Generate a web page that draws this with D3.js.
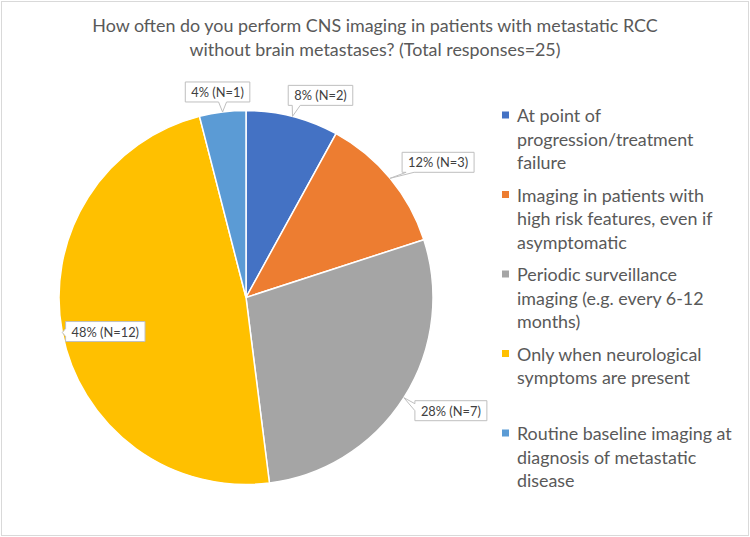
<!DOCTYPE html>
<html>
<head>
<meta charset="utf-8">
<script src="https://cdn.jsdelivr.net/npm/d3@7"></script>
<style>
  body { margin: 0; background: #fff; }
  text { font-family: Lato, "Open Sans", sans-serif; }
</style>
</head>
<body>
<svg id="chart" width="750" height="537"></svg>
<script>
// data (total responses = 25)
const categories = [
  'At point of progression/treatment failure',
  'Imaging in patients with high risk features, even if asymptomatic',
  'Periodic surveillance imaging (e.g. every 6-12 months)',
  'Only when neurological symptoms are present',
  'Routine baseline imaging at diagnosis of metastatic disease'
];
const counts = [2, 3, 7, 12, 1];
const percents = [8, 12, 28, 48, 4];
const legendLines = [
  ['At point of', 'progression/treatment', 'failure'],
  ['Imaging in patients with', 'high risk features, even if', 'asymptomatic'],
  ['Periodic surveillance', 'imaging (e.g. every 6-12', 'months)'],
  ['Only when neurological', 'symptoms are present'],
  ['Routine baseline imaging at', 'diagnosis of metastatic', 'disease']
];
const titleLines = [
  'How often do you perform CNS imaging in patients with metastatic RCC',
  'without brain metastases? (Total responses=25)'
];

const colors = ['#4472C4', '#ED7D31', '#A5A5A5', '#FFC000', '#5B9BD5'];

// callout layout: box centre offset from the slice edge point, and which side the pointer leaves from
const calloutOffset = [[28, -21], [48, -16], [47, 13], [43, -1], [-5, -20]];
const calloutSide = ['bottom', 'bottom', 'left', 'left', 'bottom'];

const width = 750, height = 537;
const cx = 246, cy = 297.5, radius = 187;

let svg = d3.select('#chart');

svg.append('rect')
  .attr('x', 1.5).attr('y', 1.5)
  .attr('width', width - 3).attr('height', height - 3)
  .attr('fill', '#fff')
  .attr('stroke', '#d9d9d9');

// pick a font size so a sample string comes out at the width measured on the picture
function fitSize(sample, target, base) {
  let t = svg.append('text').style('font-size', base + 'px').text(sample);
  let w = t.node().getComputedTextLength();
  t.remove();
  return base * target / w;
}
const bigSize = fitSize('Routine baseline imaging at', 215, 18);
const labelSize = fitSize('12% (N=3)', 60, 12);

// title
svg.append('g')
  .selectAll('text')
  .data(titleLines)
  .enter()
  .append('text')
  .attr('x', 375)
  .attr('y', (d, i) => 25 + i * 24)
  .attr('text-anchor', 'middle')
  .attr('dominant-baseline', 'central')
  .style('font-size', bigSize + 'px')
  .style('fill', '#595959')
  .text(d => d);

// pie
let pie = d3.pie().value(d => d).sort(null);
let arc = d3.arc().innerRadius(0).outerRadius(radius);
let arcs = pie(counts);

let g = svg.append('g').attr('transform', 'translate(' + cx + ',' + cy + ')');
g.selectAll('path')
  .data(arcs)
  .enter()
  .append('path')
  .attr('d', arc)
  .attr('fill', (d, i) => colors[i])
  .attr('stroke', '#fff')
  .attr('stroke-width', 1.5);

// callout data labels
arcs.forEach(function (d, i) {
  let mid = (d.startAngle + d.endAngle) / 2;
  let tx = Math.sin(mid) * radius;
  let ty = -Math.cos(mid) * radius;
  let label = percents[i] + '% (N=' + counts[i] + ')';

  let lg = g.append('g');
  let txt = lg.append('text')
    .style('font-size', labelSize + 'px')
    .style('fill', '#404040')
    .attr('text-anchor', 'middle')
    .attr('dominant-baseline', 'central')
    .text(label);
  let tw = txt.node().getComputedTextLength();
  let bw = tw + 12, bh = 20;
  let bx = tx + calloutOffset[i][0], by = ty + calloutOffset[i][1];
  let x0 = bx - bw / 2, x1 = bx + bw / 2, y0 = by - bh / 2, y1 = by + bh / 2;

  let p;
  if (calloutSide[i] === 'bottom') {
    let b1, b2;
    if (tx < x0 + 10) { b1 = x0 + 4; b2 = x0 + 12; }
    else if (tx > x1 - 10) { b1 = x1 - 12; b2 = x1 - 4; }
    else { b1 = tx - 4; b2 = tx + 4; }
    p = 'M' + x0 + ',' + y0 + 'H' + x1 + 'V' + y1 + 'H' + b2 +
      'L' + tx + ',' + ty + 'L' + b1 + ',' + y1 + 'H' + x0 + 'Z';
  } else {
    let b1, b2;
    if (ty < y0 + 8) { b1 = y0 + 3; b2 = y0 + 10; }
    else if (ty > y1 - 8) { b1 = y1 - 10; b2 = y1 - 3; }
    else { b1 = ty - 4; b2 = ty + 4; }
    p = 'M' + x0 + ',' + y0 + 'H' + x1 + 'V' + y1 + 'H' + x0 + 'V' + b2 +
      'L' + tx + ',' + ty + 'L' + x0 + ',' + b1 + 'Z';
  }
  lg.insert('path', 'text')
    .attr('d', p)
    .attr('fill', '#fff')
    .attr('stroke', '#bfbfbf')
    .attr('stroke-width', 1);
  txt.attr('x', bx).attr('y', by);
});

// legend: each entry gets a three-line slot
let legend = svg.append('g').attr('transform', 'translate(502,115)');
let item = legend.selectAll('g')
  .data(legendLines)
  .enter()
  .append('g')
  .attr('transform', (d, i) => 'translate(0,' + (i * 79.5) + ')');
item.append('rect')
  .attr('x', 0).attr('y', -3.5)
  .attr('width', 7).attr('height', 7)
  .attr('fill', (d, i) => colors[i]);
item.selectAll('text')
  .data(d => d)
  .enter()
  .append('text')
  .attr('x', 15)
  .attr('y', (d, j) => j * 23.5)
  .attr('dominant-baseline', 'central')
  .style('font-size', bigSize + 'px')
  .style('fill', '#595959')
  .text(d => d);
</script>
</body>
</html>
